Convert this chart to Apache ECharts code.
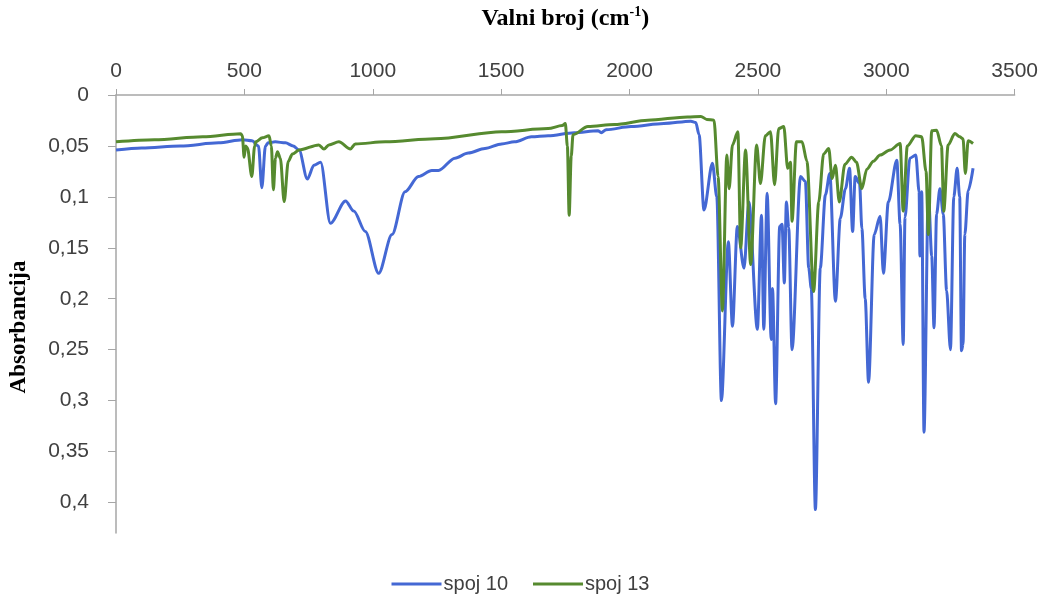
<!DOCTYPE html>
<html>
<head>
<meta charset="utf-8">
<script src="https://cdn.jsdelivr.net/npm/echarts@6/dist/echarts.min.js"></script>
<style>html,body{margin:0;padding:0;background:#fff}#chart{width:1041px;height:598px}</style>
</head>
<body>
<div id="chart"></div>
<script>
// Wavenumber (cm-1) / absorbance pairs
const seriesNames = ['spoj 10', 'spoj 13'];
const xTicks = [0, 500, 1000, 1500, 2000, 2500, 3000, 3500];
const yTicks = [0, 0.05, 0.1, 0.15, 0.2, 0.25, 0.3, 0.35, 0.4];

const spoj10 = [
  [0,0.054],[100,0.052],[250,0.050],[400,0.047],[493,0.044],[530,0.045],[555,0.050],[568,0.091],[582,0.050],
  [593,0.047],[620,0.046],[660,0.047],[690,0.050],[713,0.054],[745,0.0825],[771,0.069],[797,0.066],[835,0.126],
  [894,0.104],[926,0.114],[971,0.134],[1023,0.175],[1075,0.137],[1126,0.095],[1178,0.080],[1230,0.074],
  [1256,0.074],[1320,0.062],[1372,0.057],[1437,0.0525],[1502,0.048],[1552,0.046],[1618,0.041],[1683,0.040],
  [1785,0.037],[1877,0.035],[1890,0.037],[1909,0.034],[2006,0.031],[2134,0.028],[2239,0.0257],[2258,0.027],
  [2271,0.039],[2290,0.113],[2323,0.067],[2340,0.10],[2358,0.300],[2385,0.144],[2401,0.227],[2420,0.129],
  [2446,0.170],[2465,0.105],[2498,0.230],[2514,0.118],[2523,0.230],[2536,0.0965],[2552,0.240],[2557,0.19],
  [2569,0.303],[2585,0.129],[2594,0.127],[2603,0.1845],[2611,0.105],[2620,0.130],[2633,0.250],[2666,0.080],
  [2685,0.085],[2698,0.17],[2708,0.19],[2724,0.407],[2743,0.17],[2763,0.098],[2780,0.077],[2802,0.2025],
  [2821,0.121],[2841,0.092],[2857,0.072],[2869,0.134],[2879,0.080],[2896,0.087],[2905,0.131],[2918,0.20],
  [2931,0.282],[2953,0.137],[2976,0.119],[2989,0.175],[3008,0.105],[3041,0.064],[3054,0.127],[3066,0.245],
  [3073,0.12],[3092,0.062],[3115,0.059],[3128,0.095],[3131,0.158],[3138,0.095],[3147,0.331],[3164,0.095],
  [3177,0.158],[3186,0.2285],[3196,0.117],[3209,0.092],[3222,0.117],[3235,0.192],[3250,0.250],[3263,0.10],
  [3276,0.072],[3286,0.10],[3293,0.251],[3299,0.245],[3306,0.137],[3319,0.094],[3338,0.072]
];

const spoj13 = [
  [0,0.046],[150,0.044],[338,0.041],[486,0.038],[492,0.040],[499,0.061],[505,0.050],[512,0.052],[529,0.080],
  [540,0.050],[544,0.046],[570,0.042],[596,0.040],[605,0.050],[613,0.093],[621,0.062],[629,0.0557],[640,0.062],
  [655,0.1046],[671,0.065],[687,0.058],[713,0.054],[790,0.049],[810,0.053],[829,0.049],[868,0.046],[913,0.053],
  [932,0.048],[1049,0.046],[1243,0.043],[1502,0.036],[1683,0.033],[1738,0.030],[1750,0.028],[1758,0.05],
  [1765,0.118],[1773,0.06],[1780,0.039],[1838,0.031],[1941,0.029],[2071,0.0248],[2226,0.0215],[2278,0.021],
  [2301,0.024],[2329,0.0248],[2345,0.08],[2362,0.212],[2379,0.059],[2388,0.092],[2401,0.049],[2422,0.036],
  [2433,0.150],[2452,0.054],[2472,0.1665],[2495,0.049],[2510,0.087],[2529,0.040],[2549,0.036],[2565,0.088],
  [2581,0.033],[2601,0.031],[2616,0.072],[2627,0.066],[2633,0.124],[2650,0.046],[2672,0.046],[2691,0.065],
  [2717,0.193],[2737,0.105],[2756,0.058],[2776,0.0525],[2789,0.082],[2802,0.069],[2817,0.105],[2839,0.068],
  [2865,0.061],[2884,0.066],[2905,0.092],[2924,0.073],[2950,0.065],[2976,0.059],[3015,0.054],[3054,0.0476],
  [3066,0.114],[3082,0.05],[3115,0.040],[3138,0.041],[3155,0.075],[3164,0.137],[3177,0.035],[3196,0.0345],
  [3215,0.050],[3224,0.114],[3241,0.049],[3267,0.0378],[3286,0.041],[3299,0.043],[3308,0.077],[3319,0.045],
  [3338,0.0476]
];

const chart = echarts.init(document.getElementById('chart'), null, {renderer: 'canvas'});
const axisGray = '#A6A6A6';
const fmtY = v => String(+(+v).toFixed(2)).replace('.', ',');
const fmtX = v => String(Math.round(v));

chart.setOption({
  animation: false,
  backgroundColor: '#fff',
  grid: {left: 113, top: 92, right: 26, bottom: 65, containLabel: false},
  legend: {
    data: seriesNames,
    left: 'center', top: 569,
    icon: 'rect', itemWidth: 50, itemHeight: 3, itemGap: 25,
    textStyle: {fontFamily: 'Liberation Sans', fontSize: 20, color: '#404040', padding: [0,0,0,-3]}
  },
  xAxis: {
    type: 'value', position: 'top', min: 0, max: 3500, interval: 500,
    name: '{a|Valni broj (cm}{s|-1}{a|)}',
    nameLocation: 'middle', nameGap: 62,
    nameTextStyle: {
      rich: {
        a: {fontFamily: 'Liberation Serif', fontWeight: 'bold', fontSize: 24, color: '#000', lineHeight: 28},
        s: {fontFamily: 'Liberation Serif', fontWeight: 'bold', fontSize: 14, color: '#000', verticalAlign: 'top', lineHeight: 28}
      }
    },
    axisLine: {show: true, onZero: false, lineStyle: {color: axisGray, width: 1.5}},
    axisTick: {show: true, inside: false, length: 6, lineStyle: {color: axisGray, width: 1}, customValues: xTicks},
    axisLabel: {fontFamily: 'Liberation Sans', fontSize: 21, color: '#404040', margin: 13, formatter: fmtX, customValues: xTicks},
    splitLine: {show: false}
  },
  yAxis: {
    type: 'value', inverse: true, min: 0, max: 0.43, interval: 0.05,
    name: 'Absorbancija',
    nameLocation: 'middle', nameGap: 85,
    nameTextStyle: {fontFamily: 'Liberation Serif', fontWeight: 'bold', fontSize: 23, color: '#000', padding: [0, 26, 0, 0]},
    axisLine: {show: true, onZero: false, lineStyle: {color: axisGray, width: 1.5}},
    axisTick: {show: true, inside: false, length: 8, lineStyle: {color: axisGray, width: 1}, customValues: yTicks},
    axisLabel: {fontFamily: 'Liberation Sans', fontSize: 21, color: '#404040', margin: 27, formatter: fmtY, customValues: yTicks},
    splitLine: {show: false}
  },
  series: [
    {name: seriesNames[0], type: 'line', data: spoj10, showSymbol: false, symbol: 'none', smooth: 0.3, smoothMonotone: 'x',
     color: '#4468D4', lineStyle: {width: 3, color: '#4468D4'}},
    {name: seriesNames[1], type: 'line', data: spoj13, showSymbol: false, symbol: 'none', smooth: 0.3, smoothMonotone: 'x',
     color: '#568A2F', lineStyle: {width: 3, color: '#568A2F'}}
  ]
});
</script>
</body>
</html>
